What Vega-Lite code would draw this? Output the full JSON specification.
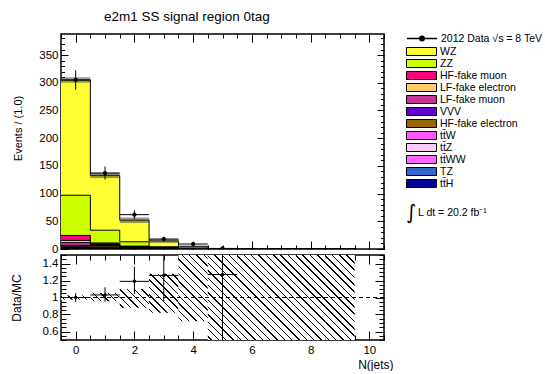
{
  "$schema": "https://vega.github.io/schema/vega-lite/v6.json",
  "background": "white",
  "padding": {"left": 9, "top": 10, "right": 0, "bottom": 0},
  "title": {"text": "e2m1 SS signal region 0tag", "anchor": "start", "frame": "group", "dx": 43, "fontSize": 13.5, "fontWeight": "normal", "font": "Liberation Sans", "color": "black", "offset": -2, "baseline": "alphabetic"},
  "datasets": {
    "mc": [
      {"x": -0.5, "WZ": 208, "ZZ": 72.5, "HFmu": 9, "LFe": 4, "LFmu": 5, "VVV": 2.5, "HFe": 1, "ttW": 1, "ttZ": 0.5, "ttWW": 0.1, "TZ": 0.4, "ttH": 1},
      {"x": 0.5, "WZ": 99, "ZZ": 23, "HFmu": 1.5, "LFe": 1, "LFmu": 1, "VVV": 1.2, "HFe": 2.5, "ttW": 1.5, "ttZ": 0.8, "ttWW": 0.1, "TZ": 0.5, "ttH": 0.8},
      {"x": 1.5, "WZ": 39, "ZZ": 8, "HFmu": 0.2, "LFe": 0.3, "LFmu": 0.3, "VVV": 0.6, "HFe": 0.8, "ttW": 1, "ttZ": 0.6, "ttWW": 0.1, "TZ": 0.4, "ttH": 0.7},
      {"x": 2.5, "WZ": 10.5, "ZZ": 1.6, "HFmu": 0.1, "LFe": 0.1, "LFmu": 0.1, "VVV": 0.3, "HFe": 0.2, "ttW": 0.5, "ttZ": 0.4, "ttWW": 0.1, "TZ": 0.3, "ttH": 0.4},
      {"x": 3.5, "WZ": 2.8, "ZZ": 0.4, "HFmu": 0, "LFe": 0, "LFmu": 0, "VVV": 0.2, "HFe": 0, "ttW": 0.2, "ttZ": 0.2, "ttWW": 0.05, "TZ": 0.1, "ttH": 0.15},
      {"x": 4.5, "WZ": 0.6, "ZZ": 0.05, "HFmu": 0, "LFe": 0, "LFmu": 0, "VVV": 0.05, "HFe": 0, "ttW": 0.03, "ttZ": 0.03, "ttWW": 0, "TZ": 0, "ttH": 0.03},
      {"x": 5.5, "WZ": 0.2, "ZZ": 0, "HFmu": 0, "LFe": 0, "LFmu": 0, "VVV": 0, "HFe": 0, "ttW": 0, "ttZ": 0, "ttWW": 0, "TZ": 0, "ttH": 0.02},
      {"x": 6.5, "WZ": 0.06, "ZZ": 0, "HFmu": 0, "LFe": 0, "LFmu": 0, "VVV": 0, "HFe": 0, "ttW": 0, "ttZ": 0, "ttWW": 0, "TZ": 0, "ttH": 0},
      {"x": 7.5, "WZ": 0.02, "ZZ": 0, "HFmu": 0, "LFe": 0, "LFmu": 0, "VVV": 0, "HFe": 0, "ttW": 0, "ttZ": 0, "ttWW": 0, "TZ": 0, "ttH": 0},
      {"x": 8.5, "WZ": 0.01, "ZZ": 0, "HFmu": 0, "LFe": 0, "LFmu": 0, "VVV": 0, "HFe": 0, "ttW": 0, "ttZ": 0, "ttWW": 0, "TZ": 0, "ttH": 0},
      {"x": 9.5, "WZ": 0, "ZZ": 0, "HFmu": 0, "LFe": 0, "LFmu": 0, "VVV": 0, "HFe": 0, "ttW": 0, "ttZ": 0, "ttWW": 0, "TZ": 0, "ttH": 0}
    ],
    "procs": [
      {"f": "WZ", "p": "WZ", "k": 1},
      {"f": "ZZ", "p": "ZZ", "k": 2},
      {"f": "HFmu", "p": "HF-fake muon", "k": 3},
      {"f": "LFe", "p": "LF-fake electron", "k": 4},
      {"f": "LFmu", "p": "LF-fake muon", "k": 5},
      {"f": "VVV", "p": "VVV", "k": 6},
      {"f": "HFe", "p": "HF-fake electron", "k": 7},
      {"f": "ttW", "p": "tt\u0304W", "k": 8},
      {"f": "ttZ", "p": "tt\u0304Z", "k": 9},
      {"f": "ttWW", "p": "tt\u0304WW", "k": 10},
      {"f": "TZ", "p": "TZ", "k": 11},
      {"f": "ttH", "p": "tt\u0304H", "k": 12}
    ],
    "band": [
      {"x0": -0.5, "x1": 0.5, "lo": 300, "hi": 310},
      {"x0": 0.5, "x1": 1.5, "lo": 128, "hi": 138},
      {"x0": 1.5, "x1": 2.5, "lo": 47, "hi": 57},
      {"x0": 2.5, "x1": 3.5, "lo": 11, "hi": 18},
      {"x0": 3.5, "x1": 4.5, "lo": 1.5, "hi": 6.5}
    ],
    "obs": [
      {"x": 0, "x0": -0.5, "x1": 0.5, "n": 305, "lo": 287.5, "hi": 322.5, "r": 1.0, "rlo": 0.95, "rhi": 1.05},
      {"x": 1, "x0": 0.5, "x1": 1.5, "n": 137, "lo": 125.3, "hi": 148.7, "r": 1.03, "rlo": 0.95, "rhi": 1.12},
      {"x": 2, "x0": 1.5, "x1": 2.5, "n": 62, "lo": 54.1, "hi": 69.9, "r": 1.19, "rlo": 1.04, "rhi": 1.36},
      {"x": 3, "x0": 2.5, "x1": 3.5, "n": 18, "lo": 13.8, "hi": 22.2, "r": 1.26, "rlo": 0.96, "rhi": 1.56},
      {"x": 4, "x0": 3.5, "x1": 4.5, "n": 9, "lo": 6, "hi": 12, "r": 2.2, "rlo": 1.52, "rhi": 2.9},
      {"x": 5, "x0": 4.5, "x1": 5.5, "n": 1, "lo": 0, "hi": 2, "r": 1.27, "rlo": 0, "rhi": 2.54}
    ],
    "hatch": [
      {"x": 0, "x0": -0.5, "x1": 0.5, "lo": 0.975, "hi": 1.025},
      {"x": 1, "x0": 0.5, "x1": 1.5, "lo": 0.955, "hi": 1.055},
      {"x": 2, "x0": 1.5, "x1": 2.5, "lo": 0.88, "hi": 1.10},
      {"x": 3, "x0": 2.5, "x1": 3.5, "lo": 0.82, "hi": 1.28},
      {"x": 4, "x0": 3.5, "x1": 4.5, "lo": 0.72, "hi": 1.5},
      {"x": 5, "x0": 4.5, "x1": 5.5, "lo": 0.5, "hi": 1.5},
      {"x": 6, "x0": 5.5, "x1": 6.5, "lo": 0.5, "hi": 1.5},
      {"x": 7, "x0": 6.5, "x1": 7.5, "lo": 0.5, "hi": 1.5},
      {"x": 8, "x0": 7.5, "x1": 8.5, "lo": 0.5, "hi": 1.5},
      {"x": 9, "x0": 8.5, "x1": 9.5, "lo": 0.5, "hi": 1.5}
    ]
  },
  "vconcat": [
    {
      "width": 323,
      "height": 215,
      "layer": [
        {
          "data": {"name": "mc"},
          "transform": [
            {"fold": ["WZ", "ZZ", "HFmu", "LFe", "LFmu", "VVV", "HFe", "ttW", "ttZ", "ttWW", "TZ", "ttH"], "as": ["f", "n"]},
            {"lookup": "f", "from": {"data": {"name": "procs"}, "key": "f", "fields": ["p", "k"]}},
            {"stack": "n", "groupby": ["x"], "sort": [{"field": "k", "order": "descending"}], "as": ["y0", "y1"]}
          ],
          "mark": {"type": "area", "interpolate": "step-after", "opacity": 1, "fillOpacity": 1, "clip": true},
          "encoding": {
            "x": {"field": "x", "type": "quantitative", "scale": {"domain": [-0.5, 10.5], "nice": false, "zero": false},
                  "axis": {"orient": "bottom", "values": [0, 2, 4, 6, 8, 10], "labels": false, "tickSize": -8, "title": null}},
            "y": {"field": "y1", "type": "quantitative", "stack": null, "scale": {"domain": [0, 388], "nice": false, "zero": false},
                  "axis": {"orient": "left", "values": [0, 50, 100, 150, 200, 250, 300, 350], "ticks": false, "labelPadding": 3,
                           "title": "Events / (1.0)", "titleFontSize": 11, "titleX": -43, "titleY": 94, "titleAlign": "center", "titleBaseline": "middle"}},
            "y2": {"field": "y0"},
            "color": {"field": "p", "type": "nominal",
              "scale": {"domain": ["WZ", "ZZ", "HF-fake muon", "LF-fake electron", "LF-fake muon", "VVV", "HF-fake electron", "tt\u0304W", "tt\u0304Z", "tt\u0304WW", "TZ", "tt\u0304H"],
                        "range": ["#ffff33", "#ccff00", "#ff0080", "#ffcc66", "#cc3399", "#6600cc", "#996600", "#ff55ff", "#ffccff", "#ff66ff", "#3366cc", "#000099"]},
              "legend": {"orient": "none", "legendX": 345, "legendY": 12, "title": null,
                "symbolType": "M-3,-0.8H3V0.8H-3Z", "symbolSize": 100, "symbolStrokeColor": "black", "symbolStrokeWidth": 1,
                "symbolOffset": 10, "labelOffset": 13, "labelFont": "Liberation Sans", "labelFontSize": 10.5, "labelColor": "black",
                "rowPadding": -1.1, "labelLimit": 200,
                "encode": {"symbols": {"update": {
                  "stroke": {"value": "black"},
                  "strokeWidth": {"value": 1},
                  "opacity": {"value": 1},
                  "fillOpacity": {"value": 1}
                }}}
              }}
          }
        },
        {
          "data": {"name": "mc"},
          "transform": [
            {"fold": ["WZ", "ZZ", "HFmu", "LFe", "LFmu", "VVV", "HFe", "ttW", "ttZ", "ttWW", "TZ", "ttH"], "as": ["f", "n"]},
            {"lookup": "f", "from": {"data": {"name": "procs"}, "key": "f", "fields": ["p", "k"]}},
            {"stack": "n", "groupby": ["x"], "sort": [{"field": "k", "order": "descending"}], "as": ["y0", "y1"]}
          ],
          "mark": {"type": "line", "interpolate": "step-after", "color": "black", "strokeWidth": 1, "clip": true},
          "encoding": {
            "x": {"field": "x", "type": "quantitative", "scale": {"domain": [-0.5, 10.5], "nice": false, "zero": false},
                  "axis": {"orient": "bottom", "values": [-0.5, 0, 0.5, 1, 1.5, 2, 2.5, 3, 3.5, 4, 4.5, 5, 5.5, 6, 6.5, 7, 7.5, 8, 8.5, 9, 9.5, 10, 10.5], "labels": false, "tickSize": -4, "title": null}},
            "y": {"field": "y1", "type": "quantitative", "stack": null, "scale": {"domain": [0, 388], "nice": false, "zero": false},
                  "axis": {"orient": "left", "values": [0, 50, 100, 150, 200, 250, 300, 350], "labels": false, "tickSize": -7, "title": null}},
            "detail": {"field": "f"}
          }
        },
        {
          "data": {"name": "band"},
          "mark": {"type": "rect", "color": "#333333", "opacity": 0.5},
          "encoding": {
            "x": {"field": "x0", "type": "quantitative", "scale": {"domain": [-0.5, 10.5], "nice": false, "zero": false},
                  "axis": {"orient": "top", "values": [0, 2, 4, 6, 8, 10], "labels": false, "tickSize": -8, "title": null}},
            "x2": {"field": "x1"},
            "y": {"field": "lo", "type": "quantitative", "scale": {"domain": [0, 388], "nice": false, "zero": false},
                  "axis": {"orient": "left", "values": [0, 10, 20, 30, 40, 50, 60, 70, 80, 90, 100, 110, 120, 130, 140, 150, 160, 170, 180, 190, 200, 210, 220, 230, 240, 250, 260, 270, 280, 290, 300, 310, 320, 330, 340, 350, 360, 370, 380], "labels": false, "tickSize": -3.5, "title": null}},
            "y2": {"field": "hi"}
          }
        },
        {
          "data": {"name": "obs"},
          "mark": {"type": "rule", "color": "black", "strokeWidth": 1, "clip": true},
          "encoding": {
            "x": {"field": "x", "type": "quantitative", "scale": {"domain": [-0.5, 10.5], "nice": false, "zero": false},
                  "axis": {"orient": "top", "values": [-0.5, 0, 0.5, 1, 1.5, 2, 2.5, 3, 3.5, 4, 4.5, 5, 5.5, 6, 6.5, 7, 7.5, 8, 8.5, 9, 9.5, 10, 10.5], "labels": false, "tickSize": -4, "title": null}},
            "y": {"field": "lo", "type": "quantitative", "scale": {"domain": [0, 388], "nice": false, "zero": false},
                  "axis": {"orient": "right", "values": [0, 50, 100, 150, 200, 250, 300, 350], "labels": false, "tickSize": -7, "title": null}},
            "y2": {"field": "hi"}
          }
        },
        {
          "data": {"name": "obs"},
          "mark": {"type": "rule", "color": "black", "strokeWidth": 1, "clip": true},
          "encoding": {
            "x": {"field": "x0", "type": "quantitative", "scale": {"domain": [-0.5, 10.5], "nice": false, "zero": false}, "axis": null},
            "x2": {"field": "x1"},
            "y": {"field": "n", "type": "quantitative", "scale": {"domain": [0, 388], "nice": false, "zero": false},
                  "axis": {"orient": "right", "values": [0, 10, 20, 30, 40, 50, 60, 70, 80, 90, 100, 110, 120, 130, 140, 150, 160, 170, 180, 190, 200, 210, 220, 230, 240, 250, 260, 270, 280, 290, 300, 310, 320, 330, 340, 350, 360, 370, 380], "labels": false, "tickSize": -3.5, "title": null}}
          }
        },
        {
          "data": {"name": "obs"},
          "mark": {"type": "point", "shape": "circle", "filled": true, "size": 18, "opacity": 1, "clip": true},
          "encoding": {
            "x": {"field": "x", "type": "quantitative", "scale": {"domain": [-0.5, 10.5], "nice": false, "zero": false}, "axis": null},
            "y": {"field": "n", "type": "quantitative", "scale": {"domain": [0, 388], "nice": false, "zero": false}, "axis": null},
            "fill": {"datum": "2012 Data \u221as = 8 TeV", "type": "nominal", "scale": {"range": ["black"]},
              "legend": {"orient": "none", "legendX": 345, "legendY": -1.5, "title": null,
                "symbolType": "M-3,0H3M0.45,0A0.45,0.45,0,1,1,-0.45,0A0.45,0.45,0,1,1,0.45,0", "symbolSize": 100,
                "symbolStrokeColor": "black", "symbolStrokeWidth": 1.5, "symbolFillColor": "black",
                "symbolOffset": 10, "labelOffset": 13, "labelFont": "Liberation Sans", "labelFontSize": 10.5, "labelColor": "black", "labelLimit": 200,
                "encode": {"symbols": {"update": {
                  "stroke": {"value": "black"},
                  "strokeWidth": {"value": 1.5},
                  "fill": {"value": "black"},
                  "opacity": {"value": 1},
                  "fillOpacity": {"value": 1}
                }}}
              }}
          }
        },
        {
          "data": {"values": [{"t": "\u222b"}]},
          "mark": {"type": "text", "fontSize": 20, "align": "left", "baseline": "middle", "font": "DejaVu Sans", "color": "black"},
          "encoding": {
            "x": {"datum": 11.25, "type": "quantitative", "scale": {"domain": [-0.5, 10.5], "nice": false, "zero": false}, "axis": null},
            "y": {"datum": 65.5, "type": "quantitative", "scale": {"domain": [0, 388], "nice": false, "zero": false}, "axis": null},
            "text": {"field": "t"}
          }
        },
        {
          "data": {"values": [{"t": "L dt = 20.2 fb\u207b\u00b9"}]},
          "mark": {"type": "text", "fontSize": 10.5, "align": "left", "baseline": "middle", "font": "Liberation Sans", "color": "black"},
          "encoding": {
            "x": {"datum": 11.66, "type": "quantitative", "scale": {"domain": [-0.5, 10.5], "nice": false, "zero": false}, "axis": null},
            "y": {"datum": 65.5, "type": "quantitative", "scale": {"domain": [0, 388], "nice": false, "zero": false}, "axis": null},
            "text": {"field": "t"}
          }
        }
      ],
      "resolve": {"axis": {"x": "independent", "y": "independent"}}
    },
    {
      "width": 323,
      "height": 85,
      "layer": [
        {
          "data": {"name": "hatch"},
          "transform": [{"filter": "datum.x == 0"}],
          "mark": {"type": "rect", "fill": {"gradient": "linear", "x1": 0, "y1": 1, "x2": 1.1212, "y2": 0.8377, "stops": [
            {"offset": 0, "color": "white"},
            {"offset": 0.088, "color": "white"}, {"offset": 0.088, "color": "black"}, {"offset": 0.13, "color": "black"}, {"offset": 0.13, "color": "white"},
            {"offset": 0.3065, "color": "white"}, {"offset": 0.3065, "color": "black"}, {"offset": 0.3485, "color": "black"}, {"offset": 0.3485, "color": "white"},
            {"offset": 0.5248, "color": "white"}, {"offset": 0.5248, "color": "black"}, {"offset": 0.5668, "color": "black"}, {"offset": 0.5668, "color": "white"},
            {"offset": 0.7431, "color": "white"}, {"offset": 0.7431, "color": "black"}, {"offset": 0.7851, "color": "black"}, {"offset": 0.7851, "color": "white"},
            {"offset": 1, "color": "white"}]}},
          "encoding": {
            "x": {"field": "x0", "type": "quantitative", "scale": {"domain": [-0.5, 10.5], "nice": false, "zero": false},
                  "axis": {"orient": "bottom", "values": [0, 2, 4, 6, 8, 10], "ticks": false, "labelPadding": 4,
                           "title": "N(jets)", "titleFontSize": 12, "titleAlign": "right", "titleAnchor": "end", "titleX": 332, "titleY": 28, "titleBaseline": "alphabetic"}},
            "x2": {"field": "x1"},
            "y": {"field": "lo", "type": "quantitative", "scale": {"domain": [0.5, 1.5], "nice": false, "zero": false},
                  "axis": {"orient": "left", "values": [0.6, 0.8, 1, 1.2, 1.4], "labelExpr": "'' + datum.value", "ticks": false, "labelPadding": 3,
                           "title": "Data/MC", "titleFontSize": 12, "titleX": -45, "titleY": 42.5, "titleAlign": "center", "titleBaseline": "middle"}},
            "y2": {"field": "hi"}
          }
        },
        {
          "data": {"name": "hatch"},
          "transform": [{"filter": "datum.x == 1"}],
          "mark": {"type": "rect", "fill": {"gradient": "linear", "x1": 0, "y1": 1, "x2": 1.1898, "y2": 0.6555, "stops": [
            {"offset": 0, "color": "white"},
            {"offset": 0.0783, "color": "white"}, {"offset": 0.0783, "color": "black"}, {"offset": 0.1157, "color": "black"}, {"offset": 0.1157, "color": "white"},
            {"offset": 0.2722, "color": "white"}, {"offset": 0.2722, "color": "black"}, {"offset": 0.3096, "color": "black"}, {"offset": 0.3096, "color": "white"},
            {"offset": 0.4661, "color": "white"}, {"offset": 0.4661, "color": "black"}, {"offset": 0.5035, "color": "black"}, {"offset": 0.5035, "color": "white"},
            {"offset": 0.66, "color": "white"}, {"offset": 0.66, "color": "black"}, {"offset": 0.6974, "color": "black"}, {"offset": 0.6974, "color": "white"},
            {"offset": 0.8539, "color": "white"}, {"offset": 0.8539, "color": "black"}, {"offset": 0.8913, "color": "black"}, {"offset": 0.8913, "color": "white"},
            {"offset": 1, "color": "white"}]}},
          "encoding": {
            "x": {"field": "x0", "type": "quantitative", "scale": {"domain": [-0.5, 10.5], "nice": false, "zero": false},
                  "axis": {"orient": "bottom", "values": [0, 2, 4, 6, 8, 10], "labels": false, "tickSize": -9, "title": null}},
            "x2": {"field": "x1"},
            "y": {"field": "lo", "type": "quantitative", "scale": {"domain": [0.5, 1.5], "nice": false, "zero": false},
                  "axis": {"orient": "left", "values": [0.6, 0.8, 1, 1.2, 1.4], "labels": false, "tickSize": -9, "title": null}},
            "y2": {"field": "hi"}
          }
        },
        {
          "data": {"name": "hatch"},
          "transform": [{"filter": "datum.x == 2"}],
          "mark": {"type": "rect", "fill": {"gradient": "linear", "x1": 0, "y1": 1, "x2": 1.1645, "y2": 0.2583, "stops": [
            {"offset": 0, "color": "white"},
            {"offset": 0.0617, "color": "white"}, {"offset": 0.0617, "color": "black"}, {"offset": 0.0911, "color": "black"}, {"offset": 0.0911, "color": "white"},
            {"offset": 0.2144, "color": "white"}, {"offset": 0.2144, "color": "black"}, {"offset": 0.2438, "color": "black"}, {"offset": 0.2438, "color": "white"},
            {"offset": 0.3671, "color": "white"}, {"offset": 0.3671, "color": "black"}, {"offset": 0.3965, "color": "black"}, {"offset": 0.3965, "color": "white"},
            {"offset": 0.5198, "color": "white"}, {"offset": 0.5198, "color": "black"}, {"offset": 0.5492, "color": "black"}, {"offset": 0.5492, "color": "white"},
            {"offset": 0.6725, "color": "white"}, {"offset": 0.6725, "color": "black"}, {"offset": 0.7019, "color": "black"}, {"offset": 0.7019, "color": "white"},
            {"offset": 0.8252, "color": "white"}, {"offset": 0.8252, "color": "black"}, {"offset": 0.8546, "color": "black"}, {"offset": 0.8546, "color": "white"},
            {"offset": 1, "color": "white"}]}},
          "encoding": {
            "x": {"field": "x0", "type": "quantitative", "scale": {"domain": [-0.5, 10.5], "nice": false, "zero": false},
                  "axis": {"orient": "bottom", "values": [-0.5, 0, 0.5, 1, 1.5, 2, 2.5, 3, 3.5, 4, 4.5, 5, 5.5, 6, 6.5, 7, 7.5, 8, 8.5, 9, 9.5, 10, 10.5], "labels": false, "tickSize": -5, "title": null}},
            "x2": {"field": "x1"},
            "y": {"field": "lo", "type": "quantitative", "scale": {"domain": [0.5, 1.5], "nice": false, "zero": false},
                  "axis": {"orient": "left", "values": [0.5, 0.55, 0.6, 0.65, 0.7, 0.75, 0.8, 0.85, 0.9, 0.95, 1, 1.05, 1.1, 1.15, 1.2, 1.25, 1.3, 1.35, 1.4, 1.45, 1.5], "labels": false, "tickSize": -5, "title": null}},
            "y2": {"field": "hi"}
          }
        },
        {
          "data": {"name": "hatch"},
          "transform": [{"filter": "datum.x == 3"}],
          "mark": {"type": "rect", "fill": {"gradient": "linear", "x1": 0, "y1": 1, "x2": 0.8407, "y2": -0.1196, "stops": [
            {"offset": 0, "color": "white"},
            {"offset": 0.0433, "color": "white"}, {"offset": 0.0433, "color": "black"}, {"offset": 0.0639, "color": "black"}, {"offset": 0.0639, "color": "white"},
            {"offset": 0.1505, "color": "white"}, {"offset": 0.1505, "color": "black"}, {"offset": 0.1711, "color": "black"}, {"offset": 0.1711, "color": "white"},
            {"offset": 0.2577, "color": "white"}, {"offset": 0.2577, "color": "black"}, {"offset": 0.2783, "color": "black"}, {"offset": 0.2783, "color": "white"},
            {"offset": 0.3649, "color": "white"}, {"offset": 0.3649, "color": "black"}, {"offset": 0.3855, "color": "black"}, {"offset": 0.3855, "color": "white"},
            {"offset": 0.4721, "color": "white"}, {"offset": 0.4721, "color": "black"}, {"offset": 0.4927, "color": "black"}, {"offset": 0.4927, "color": "white"},
            {"offset": 0.5793, "color": "white"}, {"offset": 0.5793, "color": "black"}, {"offset": 0.5999, "color": "black"}, {"offset": 0.5999, "color": "white"},
            {"offset": 0.6865, "color": "white"}, {"offset": 0.6865, "color": "black"}, {"offset": 0.7071, "color": "black"}, {"offset": 0.7071, "color": "white"},
            {"offset": 0.7937, "color": "white"}, {"offset": 0.7937, "color": "black"}, {"offset": 0.8143, "color": "black"}, {"offset": 0.8143, "color": "white"},
            {"offset": 0.9009, "color": "white"}, {"offset": 0.9009, "color": "black"}, {"offset": 0.9215, "color": "black"}, {"offset": 0.9215, "color": "white"},
            {"offset": 1, "color": "white"}]}},
          "encoding": {
            "x": {"field": "x0", "type": "quantitative", "scale": {"domain": [-0.5, 10.5], "nice": false, "zero": false},
                  "axis": {"orient": "top", "values": [0, 2, 4, 6, 8, 10], "labels": false, "tickSize": -9, "title": null}},
            "x2": {"field": "x1"},
            "y": {"field": "lo", "type": "quantitative", "scale": {"domain": [0.5, 1.5], "nice": false, "zero": false},
                  "axis": {"orient": "right", "values": [0.6, 0.8, 1, 1.2, 1.4], "labels": false, "tickSize": -9, "title": null}},
            "y2": {"field": "hi"}
          }
        },
        {
          "data": {"name": "hatch"},
          "transform": [{"filter": "datum.x == 4"}],
          "mark": {"type": "rect", "fill": {"gradient": "linear", "x1": 0, "y1": 1, "x2": 0.5342, "y2": -0.2062, "stops": [
            {"offset": 0, "color": "white"},
            {"offset": 0.031, "color": "white"}, {"offset": 0.031, "color": "black"}, {"offset": 0.0458, "color": "black"}, {"offset": 0.0458, "color": "white"},
            {"offset": 0.1077, "color": "white"}, {"offset": 0.1077, "color": "black"}, {"offset": 0.1225, "color": "black"}, {"offset": 0.1225, "color": "white"},
            {"offset": 0.1844, "color": "white"}, {"offset": 0.1844, "color": "black"}, {"offset": 0.1992, "color": "black"}, {"offset": 0.1992, "color": "white"},
            {"offset": 0.2612, "color": "white"}, {"offset": 0.2612, "color": "black"}, {"offset": 0.276, "color": "black"}, {"offset": 0.276, "color": "white"},
            {"offset": 0.3379, "color": "white"}, {"offset": 0.3379, "color": "black"}, {"offset": 0.3527, "color": "black"}, {"offset": 0.3527, "color": "white"},
            {"offset": 0.4146, "color": "white"}, {"offset": 0.4146, "color": "black"}, {"offset": 0.4294, "color": "black"}, {"offset": 0.4294, "color": "white"},
            {"offset": 0.4914, "color": "white"}, {"offset": 0.4914, "color": "black"}, {"offset": 0.5062, "color": "black"}, {"offset": 0.5062, "color": "white"},
            {"offset": 0.5681, "color": "white"}, {"offset": 0.5681, "color": "black"}, {"offset": 0.5829, "color": "black"}, {"offset": 0.5829, "color": "white"},
            {"offset": 0.6448, "color": "white"}, {"offset": 0.6448, "color": "black"}, {"offset": 0.6596, "color": "black"}, {"offset": 0.6596, "color": "white"},
            {"offset": 0.7215, "color": "white"}, {"offset": 0.7215, "color": "black"}, {"offset": 0.7363, "color": "black"}, {"offset": 0.7363, "color": "white"},
            {"offset": 0.7983, "color": "white"}, {"offset": 0.7983, "color": "black"}, {"offset": 0.8131, "color": "black"}, {"offset": 0.8131, "color": "white"},
            {"offset": 0.875, "color": "white"}, {"offset": 0.875, "color": "black"}, {"offset": 0.8898, "color": "black"}, {"offset": 0.8898, "color": "white"},
            {"offset": 0.9517, "color": "white"}, {"offset": 0.9517, "color": "black"}, {"offset": 0.9665, "color": "black"}, {"offset": 0.9665, "color": "white"},
            {"offset": 1, "color": "white"}]}},
          "encoding": {
            "x": {"field": "x0", "type": "quantitative", "scale": {"domain": [-0.5, 10.5], "nice": false, "zero": false},
                  "axis": {"orient": "top", "values": [-0.5, 0, 0.5, 1, 1.5, 2, 2.5, 3, 3.5, 4, 4.5, 5, 5.5, 6, 6.5, 7, 7.5, 8, 8.5, 9, 9.5, 10, 10.5], "labels": false, "tickSize": -5, "title": null}},
            "x2": {"field": "x1"},
            "y": {"field": "lo", "type": "quantitative", "scale": {"domain": [0.5, 1.5], "nice": false, "zero": false},
                  "axis": {"orient": "right", "values": [0.5, 0.55, 0.6, 0.65, 0.7, 0.75, 0.8, 0.85, 0.9, 0.95, 1, 1.05, 1.1, 1.15, 1.2, 1.25, 1.3, 1.35, 1.4, 1.45, 1.5], "labels": false, "tickSize": -5, "title": null}},
            "y2": {"field": "hi"}
          }
        },
        {
          "data": {"name": "hatch"},
          "transform": [{"filter": "datum.x >= 5"}],
          "mark": {"type": "rect", "fill": {"gradient": "linear", "x1": 0, "y1": 1, "x2": 0.4152, "y2": -0.202, "stops": [
            {"offset": 0, "color": "white"},
            {"offset": 0.0259, "color": "white"}, {"offset": 0.0259, "color": "black"}, {"offset": 0.0383, "color": "black"}, {"offset": 0.0383, "color": "white"},
            {"offset": 0.0901, "color": "white"}, {"offset": 0.0901, "color": "black"}, {"offset": 0.1025, "color": "black"}, {"offset": 0.1025, "color": "white"},
            {"offset": 0.1543, "color": "white"}, {"offset": 0.1543, "color": "black"}, {"offset": 0.1667, "color": "black"}, {"offset": 0.1667, "color": "white"},
            {"offset": 0.2184, "color": "white"}, {"offset": 0.2184, "color": "black"}, {"offset": 0.2308, "color": "black"}, {"offset": 0.2308, "color": "white"},
            {"offset": 0.2826, "color": "white"}, {"offset": 0.2826, "color": "black"}, {"offset": 0.295, "color": "black"}, {"offset": 0.295, "color": "white"},
            {"offset": 0.3468, "color": "white"}, {"offset": 0.3468, "color": "black"}, {"offset": 0.3592, "color": "black"}, {"offset": 0.3592, "color": "white"},
            {"offset": 0.411, "color": "white"}, {"offset": 0.411, "color": "black"}, {"offset": 0.4234, "color": "black"}, {"offset": 0.4234, "color": "white"},
            {"offset": 0.4752, "color": "white"}, {"offset": 0.4752, "color": "black"}, {"offset": 0.4876, "color": "black"}, {"offset": 0.4876, "color": "white"},
            {"offset": 0.5394, "color": "white"}, {"offset": 0.5394, "color": "black"}, {"offset": 0.5518, "color": "black"}, {"offset": 0.5518, "color": "white"},
            {"offset": 0.6035, "color": "white"}, {"offset": 0.6035, "color": "black"}, {"offset": 0.6159, "color": "black"}, {"offset": 0.6159, "color": "white"},
            {"offset": 0.6677, "color": "white"}, {"offset": 0.6677, "color": "black"}, {"offset": 0.6801, "color": "black"}, {"offset": 0.6801, "color": "white"},
            {"offset": 0.7319, "color": "white"}, {"offset": 0.7319, "color": "black"}, {"offset": 0.7443, "color": "black"}, {"offset": 0.7443, "color": "white"},
            {"offset": 0.7961, "color": "white"}, {"offset": 0.7961, "color": "black"}, {"offset": 0.8085, "color": "black"}, {"offset": 0.8085, "color": "white"},
            {"offset": 0.8603, "color": "white"}, {"offset": 0.8603, "color": "black"}, {"offset": 0.8727, "color": "black"}, {"offset": 0.8727, "color": "white"},
            {"offset": 0.9244, "color": "white"}, {"offset": 0.9244, "color": "black"}, {"offset": 0.9368, "color": "black"}, {"offset": 0.9368, "color": "white"},
            {"offset": 1, "color": "white"}]}},
          "encoding": {
            "x": {"field": "x0", "type": "quantitative", "scale": {"domain": [-0.5, 10.5], "nice": false, "zero": false}, "axis": null},
            "x2": {"field": "x1"},
            "y": {"field": "lo", "type": "quantitative", "scale": {"domain": [0.5, 1.5], "nice": false, "zero": false}, "axis": null},
            "y2": {"field": "hi"}
          }
        },
        {
          "data": {"values": [{"r": 1}]},
          "mark": {"type": "rule", "color": "black", "strokeWidth": 1, "strokeDash": [4, 3]},
          "encoding": {
            "y": {"field": "r", "type": "quantitative", "scale": {"domain": [0.5, 1.5], "nice": false, "zero": false}, "axis": null}
          }
        },
        {
          "data": {"name": "obs"},
          "mark": {"type": "rule", "color": "black", "strokeWidth": 1, "clip": true},
          "encoding": {
            "x": {"field": "x", "type": "quantitative", "scale": {"domain": [-0.5, 10.5], "nice": false, "zero": false}, "axis": null},
            "y": {"field": "rlo", "type": "quantitative", "scale": {"domain": [0.5, 1.5], "nice": false, "zero": false}, "axis": null},
            "y2": {"field": "rhi"}
          }
        },
        {
          "data": {"name": "obs"},
          "mark": {"type": "rule", "color": "black", "strokeWidth": 1, "clip": true},
          "encoding": {
            "x": {"field": "x0", "type": "quantitative", "scale": {"domain": [-0.5, 10.5], "nice": false, "zero": false}, "axis": null},
            "x2": {"field": "x1"},
            "y": {"field": "r", "type": "quantitative", "scale": {"domain": [0.5, 1.5], "nice": false, "zero": false}, "axis": null}
          }
        },
        {
          "data": {"name": "obs"},
          "mark": {"type": "point", "shape": "circle", "filled": true, "color": "black", "size": 12, "opacity": 1, "clip": true},
          "encoding": {
            "x": {"field": "x", "type": "quantitative", "scale": {"domain": [-0.5, 10.5], "nice": false, "zero": false}, "axis": null},
            "y": {"field": "r", "type": "quantitative", "scale": {"domain": [0.5, 1.5], "nice": false, "zero": false}, "axis": null}
          }
        }
      ],
      "resolve": {"axis": {"x": "independent", "y": "independent"}}
    }
  ],
  "spacing": 6,
  "bounds": "flush",
  "config": {
    "font": "Liberation Sans",
    "view": {"stroke": "black", "strokeWidth": 1.5},
    "axis": {"domain": false, "grid": false, "labelFont": "Liberation Sans", "titleFont": "Liberation Sans", "labelColor": "black", "titleColor": "black",
             "tickColor": "black", "tickWidth": 1, "labelFontSize": 11.5, "labelFlush": false, "zindex": 1, "titleFontWeight": "normal", "labelOverlap": false}
  }
}
